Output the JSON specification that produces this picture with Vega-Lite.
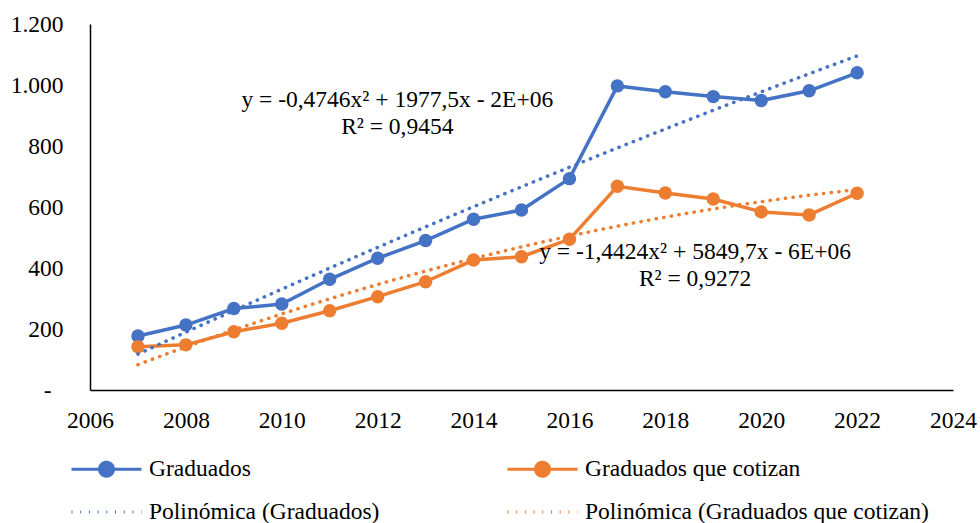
{
  "$schema": "https://vega.github.io/schema/vega-lite/v6.json",
  "width": 863,
  "height": 366,
  "autosize": "none",
  "padding": {"left": 90, "top": 24, "right": 27, "bottom": 133},
  "config": {
    "view": {"stroke": null},
    "font": "Liberation Serif, Times New Roman, serif",
    "axis": {
      "grid": false,
      "ticks": false,
      "domainColor": "#000000",
      "domainWidth": 1.5,
      "labelFont": "Liberation Serif, Times New Roman, serif",
      "labelFontSize": 23.5,
      "labelColor": "#000000",
      "labelFlush": false,
      "labelOverlap": false,
      "labelBound": false,
      "title": null
    }
  },
  "data": {
    "values": [
      {"year": 2007, "value": 177, "serie": "Graduados", "tendencia": "Polinómica (Graduados)"},
      {"year": 2008, "value": 213, "serie": "Graduados", "tendencia": "Polinómica (Graduados)"},
      {"year": 2009, "value": 267, "serie": "Graduados", "tendencia": "Polinómica (Graduados)"},
      {"year": 2010, "value": 282, "serie": "Graduados", "tendencia": "Polinómica (Graduados)"},
      {"year": 2011, "value": 363, "serie": "Graduados", "tendencia": "Polinómica (Graduados)"},
      {"year": 2012, "value": 432, "serie": "Graduados", "tendencia": "Polinómica (Graduados)"},
      {"year": 2013, "value": 490, "serie": "Graduados", "tendencia": "Polinómica (Graduados)"},
      {"year": 2014, "value": 560, "serie": "Graduados", "tendencia": "Polinómica (Graduados)"},
      {"year": 2015, "value": 590, "serie": "Graduados", "tendencia": "Polinómica (Graduados)"},
      {"year": 2016, "value": 693, "serie": "Graduados", "tendencia": "Polinómica (Graduados)"},
      {"year": 2017, "value": 997, "serie": "Graduados", "tendencia": "Polinómica (Graduados)"},
      {"year": 2018, "value": 978, "serie": "Graduados", "tendencia": "Polinómica (Graduados)"},
      {"year": 2019, "value": 962, "serie": "Graduados", "tendencia": "Polinómica (Graduados)"},
      {"year": 2020, "value": 949, "serie": "Graduados", "tendencia": "Polinómica (Graduados)"},
      {"year": 2021, "value": 981, "serie": "Graduados", "tendencia": "Polinómica (Graduados)"},
      {"year": 2022, "value": 1040, "serie": "Graduados", "tendencia": "Polinómica (Graduados)"},
      {"year": 2007, "value": 142, "serie": "Graduados que cotizan", "tendencia": "Polinómica (Graduados que cotizan)"},
      {"year": 2008, "value": 148, "serie": "Graduados que cotizan", "tendencia": "Polinómica (Graduados que cotizan)"},
      {"year": 2009, "value": 191, "serie": "Graduados que cotizan", "tendencia": "Polinómica (Graduados que cotizan)"},
      {"year": 2010, "value": 219, "serie": "Graduados que cotizan", "tendencia": "Polinómica (Graduados que cotizan)"},
      {"year": 2011, "value": 260, "serie": "Graduados que cotizan", "tendencia": "Polinómica (Graduados que cotizan)"},
      {"year": 2012, "value": 306, "serie": "Graduados que cotizan", "tendencia": "Polinómica (Graduados que cotizan)"},
      {"year": 2013, "value": 355, "serie": "Graduados que cotizan", "tendencia": "Polinómica (Graduados que cotizan)"},
      {"year": 2014, "value": 426, "serie": "Graduados que cotizan", "tendencia": "Polinómica (Graduados que cotizan)"},
      {"year": 2015, "value": 437, "serie": "Graduados que cotizan", "tendencia": "Polinómica (Graduados que cotizan)"},
      {"year": 2016, "value": 494, "serie": "Graduados que cotizan", "tendencia": "Polinómica (Graduados que cotizan)"},
      {"year": 2017, "value": 668, "serie": "Graduados que cotizan", "tendencia": "Polinómica (Graduados que cotizan)"},
      {"year": 2018, "value": 646, "serie": "Graduados que cotizan", "tendencia": "Polinómica (Graduados que cotizan)"},
      {"year": 2019, "value": 626, "serie": "Graduados que cotizan", "tendencia": "Polinómica (Graduados que cotizan)"},
      {"year": 2020, "value": 584, "serie": "Graduados que cotizan", "tendencia": "Polinómica (Graduados que cotizan)"},
      {"year": 2021, "value": 574, "serie": "Graduados que cotizan", "tendencia": "Polinómica (Graduados que cotizan)"},
      {"year": 2022, "value": 645, "serie": "Graduados que cotizan", "tendencia": "Polinómica (Graduados que cotizan)"}
    ]
  },
  "layer": [
    {
      "mark": {
        "type": "line",
        "strokeWidth": 3.5,
        "point": {"filled": true, "size": 180, "opacity": 1}
      },
      "encoding": {
        "x": {
          "field": "year",
          "type": "quantitative",
          "scale": {"domain": [2006, 2024], "nice": false, "zero": false},
          "axis": {"values": [2006, 2008, 2010, 2012, 2014, 2016, 2018, 2020, 2022, 2024], "format": "d", "labelPadding": 18}
        },
        "y": {
          "field": "value",
          "type": "quantitative",
          "scale": {"domain": [0, 1200], "nice": false},
          "axis": {
            "values": [0, 200, 400, 600, 800, 1000, 1200],
            "labelPadding": {"expr": "datum.value === 0 ? 39 : 27"},
            "labelExpr": "datum.value === 0 ? '-' : replace(format(datum.value, ','), ',', '.')"
          }
        },
        "color": {
          "field": "serie",
          "type": "nominal",
          "scale": {
            "domain": ["Graduados", "Graduados que cotizan", "Polinómica (Graduados)", "Polinómica (Graduados que cotizan)"],
            "range": ["#4472C4", "#ED7D31", "#4472C4", "#ED7D31"]
          },
          "legend": {
            "title": null,
            "orient": "none",
            "direction": "horizontal",
            "legendX": -20,
            "legendY": 435,
            "columns": 2,
            "columnPadding": 126,
            "rowPadding": 19,
            "padding": 0,
            "symbolSize": 4900,
            "clipHeight": 20,
            "labelOffset": 6,
            "labelFont": "Liberation Serif, Times New Roman, serif",
            "labelFontSize": 23.5,
            "labelColor": "#000000",
            "labelLimit": 0,
            "symbolStrokeWidth": 3,
            "symbolOpacity": 1,
            "symbolType": {"expr": "indexof(datum.value, 'Polin') === 0 ? 'M-1,0H1' : 'M-1,0H1M-0.2,0A0.2,0.2,0,1,1,0.2,0A0.2,0.2,0,1,1,-0.2,0Z'"},
            "symbolDash": {"expr": "indexof(datum.value, 'Polin') === 0 ? [1, 7.7] : [1, 0]"},
            "symbolFillColor": {"expr": "indexof(datum.value, 'Polin') === 0 ? 'transparent' : scale('color', datum.value)"}
          }
        }
      }
    },
    {
      "transform": [
        {"regression": "value", "on": "year", "method": "poly", "order": 2, "groupby": ["tendencia"]}
      ],
      "mark": {"type": "line", "strokeWidth": 3.5, "strokeDash": [0.3, 7.4], "strokeCap": "round"},
      "encoding": {
        "x": {"field": "year", "type": "quantitative"},
        "y": {"field": "value", "type": "quantitative"},
        "color": {"field": "tendencia", "type": "nominal"}
      }
    },
    {
      "data": {"values": [{"label": "Graduados"}]},
      "mark": {"type": "text", "font": "Liberation Serif, Times New Roman, serif", "fontSize": 23.5, "lineHeight": 27, "align": "center", "baseline": "middle", "color": "#000000"},
      "encoding": {
        "x": {"datum": 2012.41},
        "y": {"datum": 950},
        "text": {"value": ["y = -0,4746x² + 1977,5x - 2E+06", "R² = 0,9454"]}
      }
    },
    {
      "data": {"values": [{"label": "Graduados que cotizan"}]},
      "mark": {"type": "text", "font": "Liberation Serif, Times New Roman, serif", "fontSize": 23.5, "lineHeight": 27, "align": "center", "baseline": "middle", "color": "#000000"},
      "encoding": {
        "x": {"datum": 2018.62},
        "y": {"datum": 451},
        "text": {"value": ["y = -1,4424x² + 5849,7x - 6E+06", "R² = 0,9272"]}
      }
    }
  ]
}
